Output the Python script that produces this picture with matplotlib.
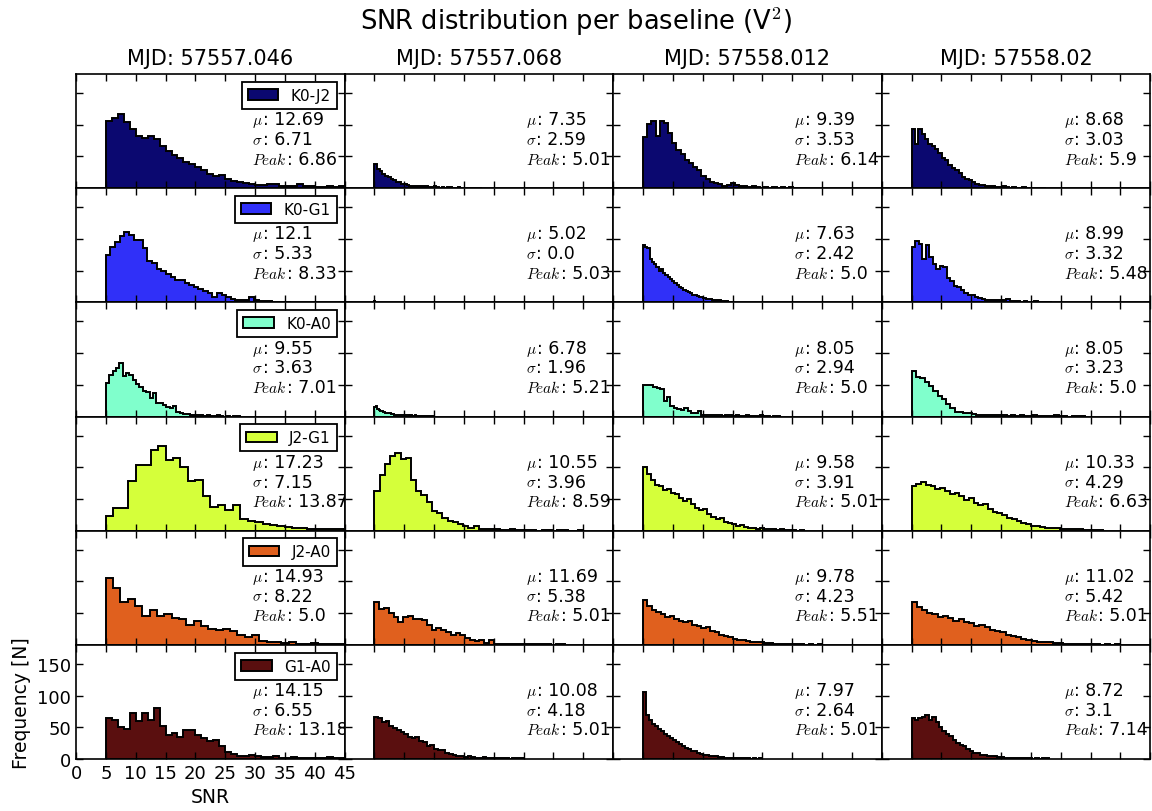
import numpy as np
import matplotlib
matplotlib.use("Agg")
import matplotlib.pyplot as plt
from matplotlib.offsetbox import TextArea, HPacker, AnchoredOffsetbox

plt.rcParams["mathtext.fontset"] = "cm"
plt.rcParams["font.family"] = ["DejaVu Sans"]

# Observation epochs (columns) and baselines (rows)
mjds = ["57557.046", "57557.068", "57558.012", "57558.02"]
baselines = ["K0-J2", "K0-G1", "K0-A0", "J2-G1", "J2-A0", "G1-A0"]
colors = ["#0b0870", "#3030f8", "#80ffcc", "#d5ff3a", "#e0601e", "#5a0f0f"]

# Summary statistics per baseline (rows) and epoch (columns)
mu = [[12.69, 7.35, 9.39, 8.68],
      [12.1, 5.02, 7.63, 8.99],
      [9.55, 6.78, 8.05, 8.05],
      [17.23, 10.55, 9.58, 10.33],
      [14.93, 11.69, 9.78, 11.02],
      [14.15, 10.08, 7.97, 8.72]]
sigma = [[6.71, 2.59, 3.53, 3.03],
         [5.33, 0.0, 2.42, 3.32],
         [3.63, 1.96, 2.94, 3.23],
         [7.15, 3.96, 3.91, 4.29],
         [8.22, 5.38, 4.23, 5.42],
         [6.55, 4.18, 2.64, 3.1]]
peak = [[6.86, 5.01, 6.14, 5.9],
        [8.33, 5.03, 5.0, 5.48],
        [7.01, 5.21, 5.0, 5.0],
        [13.87, 8.59, 5.01, 6.63],
        [5.0, 5.01, 5.51, 5.01],
        [13.18, 5.01, 5.01, 7.14]]

# Histogram range (min, max SNR) per baseline and epoch
snr_min = 5.0
snr_max = [[45, 23, 33, 27.5],
           [36, 5.04, 20, 28.5],
           [27.5, 15, 28, 34],
           [55, 40, 32, 37],
           [54, 37, 35, 40],
           [45, 30, 25, 28]]

# Bin counts per baseline, one list per epoch
counts_k0j2 = [
    [106, 110, 117, 104, 94, 82, 79, 82, 78, 66, 58, 52, 48, 42, 38, 33, 28, 23, 19, 21,
     14, 11, 10, 8, 7, 5, 5, 6, 7, 4, 3, 4, 6, 3, 3, 2, 2, 3, 2, 3],
    [38, 30, 27, 22, 19, 17, 15, 13, 10, 9, 7, 6, 5, 4, 4, 3, 3, 3, 4, 3,
     2, 2, 3, 2, 1, 2, 1, 2, 2, 1, 1, 2, 1, 1, 1, 1, 1, 0, 1, 1],
    [80, 102, 106, 82, 106, 103, 87, 72, 60, 54, 45, 40, 34, 28, 20, 15, 10, 8, 6, 4,
     5, 8, 5, 4, 3, 2, 3, 2, 1, 2, 1, 2, 1, 2, 1, 2, 1, 1, 1, 1],
    [93, 70, 94, 86, 78, 70, 66, 62, 55, 48, 44, 36, 32, 28, 24, 18, 15, 13, 10, 7,
     5, 5, 4, 4, 3, 2, 2, 3, 2, 1, 2, 1, 1, 2, 1, 1, 1, 0, 1, 1],
]
counts_k0g1 = [
    [75, 87, 95, 104, 111, 106, 98, 98, 86, 66, 62, 53, 49, 44, 40, 36, 35, 30, 28, 24,
     21, 18, 14, 9, 15, 11, 8, 6, 4, 3, 3, 8, 3, 2, 2, 2, 1, 1, 1, 1],
    [2],
    [90, 88, 86, 68, 64, 60, 55, 50, 52, 47, 43, 40, 37, 33, 30, 27, 25, 22, 20, 18,
     16, 14, 12, 11, 10, 9, 8, 7, 6, 5, 5, 4, 4, 3, 3, 2, 2, 2, 1, 1],
    [87, 97, 92, 68, 90, 72, 60, 53, 58, 56, 38, 33, 26, 25, 20, 15, 12, 11, 8, 7,
     5, 4, 4, 4, 3, 3, 3, 5, 2, 2, 2, 1, 2, 1, 1, 2, 1, 0, 1, 1],
]
counts_k0a0 = [
    [53, 66, 72, 76, 85, 64, 68, 66, 57, 52, 47, 41, 38, 29, 37, 22, 21, 18, 15, 13,
     16, 7, 5, 4, 4, 3, 3, 2, 2, 1, 2, 1, 1, 2, 1, 0, 1, 0, 1, 1],
    [15, 16, 12, 11, 9, 8, 7, 6, 6, 5, 5, 4, 4, 3, 3, 3, 3, 2, 2, 2,
     2, 2, 2, 1, 2, 1, 1, 2, 1, 1, 1, 1, 1, 1, 1, 1, 1, 1, 1, 1],
    [50, 49, 49, 47, 45, 44, 24, 31, 16, 14, 12, 11, 13, 8, 6, 5, 8, 3, 3, 2,
     2, 3, 2, 1, 2, 2, 1, 2, 1, 1, 2, 1, 1, 1, 2, 1, 1, 0, 1, 1],
    [72, 62, 60, 54, 48, 40, 33, 27, 20, 13, 7, 7, 6, 5, 4, 3, 3, 2, 2, 2,
     3, 2, 1, 2, 1, 2, 1, 1, 2, 1, 1, 1, 1, 2, 1, 1, 0, 1, 1, 1],
]
counts_j2g1 = [
    [23, 36, 36, 78, 104, 104, 128, 133, 112, 114, 100, 79, 80, 55, 38, 40, 32, 40, 18, 16,
     13, 11, 9, 7, 6, 5, 4, 3, 2, 2, 3, 2, 1, 1, 1, 0, 1, 0, 0, 1],
    [62, 88, 105, 117, 122, 113, 114, 80, 62, 57, 45, 31, 28, 20, 15, 13, 11, 8, 5, 8,
     3, 2, 2, 2, 1, 1, 2, 1, 1, 1, 1, 0, 1, 1, 0, 1, 1, 0, 0, 1],
    [100, 90, 80, 72, 70, 64, 66, 60, 58, 52, 47, 50, 42, 36, 32, 34, 26, 22, 18, 20,
     14, 12, 10, 8, 9, 6, 5, 4, 3, 4, 2, 3, 2, 1, 2, 1, 1, 1, 0, 1],
    [70, 74, 76, 72, 70, 66, 68, 62, 58, 60, 54, 48, 52, 44, 40, 42, 34, 30, 28, 24,
     20, 18, 15, 12, 10, 8, 7, 6, 5, 4, 4, 3, 3, 2, 2, 2, 1, 1, 1, 1],
]
counts_j2a0 = [
    [106, 89, 68, 73, 61, 46, 55, 46, 48, 43, 41, 32, 37, 30, 25, 24, 25, 22, 16, 12,
     16, 6, 4, 4, 3, 4, 2, 2, 3, 2, 2, 1, 2, 1, 1, 1, 0, 1, 0, 1],
    [68, 56, 58, 50, 44, 36, 44, 45, 41, 40, 39, 32, 24, 27, 23, 21, 16, 18, 15, 11,
     7, 6, 8, 3, 8, 2, 2, 2, 1, 2, 1, 2, 1, 1, 1, 1, 1, 0, 1, 1],
    [70, 62, 55, 52, 48, 44, 46, 40, 38, 36, 37, 32, 30, 26, 28, 22, 20, 16, 14, 12,
     10, 8, 7, 6, 5, 4, 4, 3, 3, 2, 2, 2, 1, 1, 1, 1, 0, 1, 0, 1],
    [68, 60, 55, 50, 48, 44, 46, 42, 38, 40, 36, 34, 30, 32, 28, 24, 22, 20, 16, 14,
     12, 10, 8, 6, 5, 5, 4, 3, 3, 2, 2, 2, 1, 1, 1, 1, 0, 1, 0, 1],
]
counts_g1a0 = [
    [64, 61, 50, 48, 72, 60, 72, 62, 81, 52, 38, 41, 34, 45, 45, 38, 33, 29, 30, 20,
     11, 8, 5, 5, 7, 5, 3, 3, 4, 2, 2, 3, 1, 2, 1, 1, 2, 3, 1, 1],
    [66, 64, 58, 60, 52, 49, 45, 43, 40, 35, 33, 34, 29, 27, 20, 22, 16, 15, 14, 10,
     8, 6, 5, 4, 3, 4, 3, 2, 2, 3, 1, 2, 1, 1, 2, 1, 0, 1, 1, 1],
    [105, 70, 62, 55, 52, 48, 44, 40, 36, 33, 30, 27, 24, 20, 18, 16, 13, 12, 10, 8,
     7, 6, 5, 4, 4, 3, 3, 2, 2, 2, 1, 2, 1, 1, 1, 1, 0, 1, 0, 1],
    [64, 62, 64, 66, 70, 62, 66, 58, 50, 44, 40, 36, 30, 26, 22, 20, 16, 13, 10, 9,
     7, 6, 5, 4, 4, 3, 3, 2, 2, 2, 1, 1, 1, 1, 1, 0, 1, 0, 1, 1],
]
all_counts = [counts_k0j2, counts_k0g1, counts_k0a0, counts_j2g1, counts_j2a0, counts_g1a0]

# Horizontal start of the statistics block in each column (axes fraction)
stat_x = [0.655, 0.675, 0.675, 0.677]
stat_y = [0.60, 0.43, 0.26]


def stat_line(ax, x, y, symbol, value):
    """Math symbol in a smaller size followed by the value in the text font."""
    sym = TextArea(symbol, textprops=dict(fontsize=11))
    val = TextArea(": " + str(value), textprops=dict(fontsize=12.5))
    row = HPacker(children=[sym, val], align="baseline", pad=0, sep=0)
    box = AnchoredOffsetbox(loc="center left", child=row, pad=0, borderpad=0,
                            frameon=False, bbox_to_anchor=(x, y),
                            bbox_transform=ax.transAxes)
    ax.add_artist(box)


fig = plt.figure(figsize=(11.52, 8.12), dpi=100)
axes = fig.subplots(
    6, 4, sharex=True, sharey=True,
    gridspec_kw=dict(left=0.066, right=0.9985, top=0.9076, bottom=0.064,
                     wspace=0, hspace=0),
)

for i, base in enumerate(baselines):
    for j, mjd in enumerate(mjds):
        ax = axes[i, j]
        counts = np.asarray(all_counts[i][j], dtype=float)
        edges = np.linspace(snr_min, snr_max[i][j], len(counts) + 1)
        ax.hist(edges[:-1], bins=edges, weights=counts, histtype="stepfilled",
                facecolor=colors[i], edgecolor="black", linewidth=1.4,
                label=base)
        ax.set_xlim(0, 45)
        ax.set_ylim(0, 180)
        ax.set_xticks(np.arange(0, 50, 5))
        ax.set_yticks([0, 50, 100, 150])
        ax.tick_params(direction="in", top=True, right=True, length=5,
                       width=1, labelsize=13,
                       labelbottom=False, labelleft=False)
        for sp in ax.spines.values():
            sp.set_linewidth(1.2)

        x0 = stat_x[j]
        stat_line(ax, x0, stat_y[0], r"$\mu$", mu[i][j])
        stat_line(ax, x0, stat_y[1], r"$\sigma$", sigma[i][j])
        stat_line(ax, x0, stat_y[2], r"$Peak$", peak[i][j])

        if j == 0:
            leg = ax.legend(loc="upper right", fontsize=11, fancybox=False,
                            framealpha=1, edgecolor="black", borderaxespad=0.5)
            leg.get_frame().set_linewidth(1.3)
        if i == 0:
            ax.set_title("MJD: " + mjd, fontsize=15, pad=7)

corner = axes[-1, 0]
corner.tick_params(labelbottom=True, labelleft=True)
corner.set_xlabel("SNR", fontsize=13.5)
corner.set_ylabel("Frequency [N]", fontsize=13.5)

fig.suptitle(r"SNR distribution per baseline (V$^2$)", fontsize=18.5, y=0.993)

fig.savefig("out.png", dpi=100)
